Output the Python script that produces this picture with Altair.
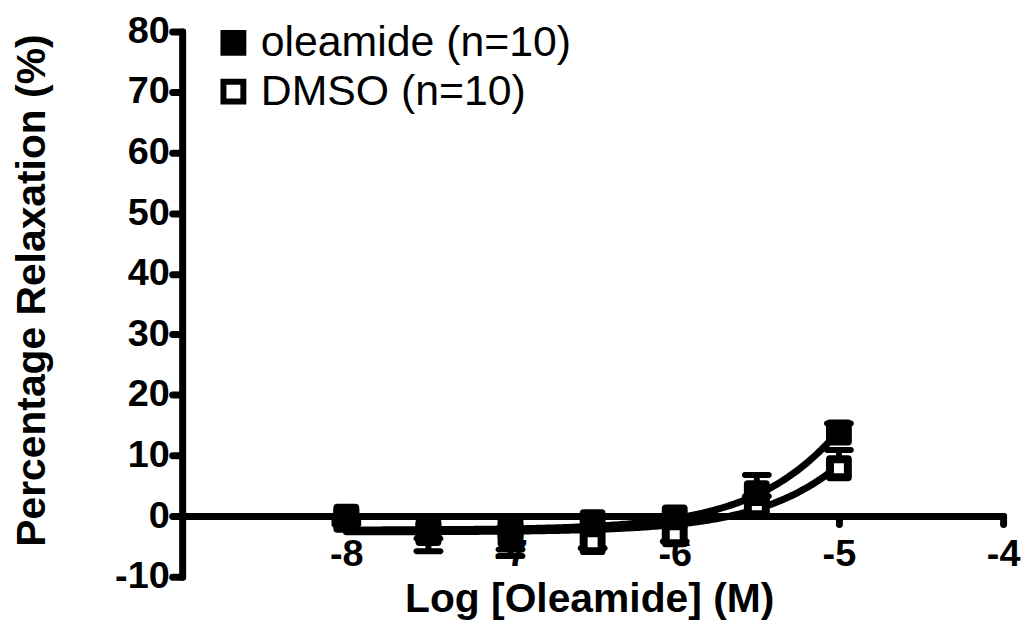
import altair as alt
import numpy as np
import pandas as pd

# ---- data ----
log_conc = [-8.0, -7.5, -7.0, -6.5, -6.0, -5.5, -5.0]
series_names = ["oleamide (n=10)", "DMSO (n=10)"]
oleamide_mean = [-0.1, -2.8, -3.0, -1.0, -0.2, 3.8, 13.8]
oleamide_sem = [0.8, 3.0, 3.6, 0.8, 0.8, 3.0, 1.5]
dmso_mean = [-0.6, -2.5, -1.9, -4.3, -3.0, 1.8, 7.9]
dmso_sem = [0.8, 1.2, 3.6, 1.0, 1.2, 1.5, 3.0]
# sigmoidal fit parameters (bottom, top, logEC50, hill) for each series
fit_bottom = [-2.3, -2.6]
fit_top = [100.0, 100.0]
fit_logec50 = [-4.28, -4.08]
fit_hill = [1.0, 1.0]
x_ticks = [-8, -7, -6, -5, -4]
y_ticks = [-10, 0, 10, 20, 30, 40, 50, 60, 70, 80]

# ---- tables ----
pts = []
for name, means, sems in [(series_names[1], dmso_mean, dmso_sem),
                          (series_names[0], oleamide_mean, oleamide_sem)]:
    for x, m, s in zip(log_conc, means, sems):
        sign = 1 if m >= 0 else -1
        pts.append({"series": name, "x": x, "y": m, "y2": m + sign * s})
pts = pd.DataFrame(pts)

curve_rows = []
grid = np.linspace(log_conc[0], log_conc[-1], 200)
for i, name in enumerate(series_names):
    for x in grid:
        y = fit_bottom[i] + (fit_top[i] - fit_bottom[i]) / (1 + 10 ** ((fit_logec50[i] - x) * fit_hill[i]))
        curve_rows.append({"series": name, "x": float(x), "y": float(y)})
curve = pd.DataFrame(curve_rows)

FONT = "Liberation Sans"
x_scale = alt.Scale(domain=[-9, -4], nice=False, zero=False)
y_scale = alt.Scale(domain=[-10, 80], nice=False, zero=False)

x_axis = alt.Axis(
    values=x_ticks, title="Log [Oleamide] (M)", offset=-61, grid=False,
    domainColor="black", domainWidth=7, domainCap="round",
    tickColor="black", tickWidth=7, tickSize=8, tickCap="round",
    labelFont=FONT, labelFontSize=38, labelFontWeight="bold", labelColor="black",
    labelBaseline="alphabetic", labelPadding=42, labelFlush=False, labelOverlap=False,
    labelExpr="datum.value + ''",
    titleFont=FONT, titleFontSize=41, titleFontWeight="bold", titleColor="black",
    titleBaseline="alphabetic", titleY=96, titleX=409, titleAlign="center",
)
y_axis = alt.Axis(
    values=y_ticks, title="Percentage Relaxation (%)", grid=False,
    domainColor="black", domainWidth=7, domainCap="round",
    tickColor="black", tickWidth=7, tickSize=10, tickCap="round",
    labelFont=FONT, labelFontSize=38, labelFontWeight="bold", labelColor="black",
    labelPadding=3, labelFlush=False, labelOverlap=False,
    labelExpr="datum.value + ''",
    titleFont=FONT, titleFontSize=41, titleFontWeight="bold", titleColor="black",
    titleBaseline="alphabetic", titleAngle=270, titleX=-138, titleY=260, titleAlign="center",
)


def X(field="x"):
    return alt.X(f"{field}:Q", scale=x_scale, axis=x_axis)


def Y(field="y"):
    return alt.Y(f"{field}:Q", scale=y_scale, axis=y_axis)


lines = alt.Chart(curve).mark_line(color="black", strokeWidth=7, strokeCap="round").encode(
    x=X(), y=Y(), detail="series:N"
)

err = alt.Chart(pts).mark_rule(color="black", strokeWidth=6).encode(
    x=X(), y=Y(), y2="y2:Q"
)

caps = alt.Chart(pts).mark_tick(color="black", orient="horizontal", size=30, thickness=6,
                                cornerRadius=3, opacity=1).encode(
    x=X(), y=Y("y2")
)

points = alt.Chart(pts).mark_square(size=324, stroke="black", strokeWidth=8,
                                    strokeJoin="round", opacity=1).encode(
    x=X(), y=Y(),
    fill=alt.Fill("series:N", sort=series_names,
                  scale=alt.Scale(domain=series_names, range=["black", "white"]),
                  legend=alt.Legend(
                      orient="none", legendX=30, legendY=-10, direction="vertical",
                      title=None, padding=0, labelLimit=1000,
                      labelFont=FONT, labelFontSize=43, labelColor="black",
                      labelOffset=6, rowPadding=4,
                      symbolType="square", symbolSize=400, symbolStrokeWidth=6,
                      symbolStrokeColor="black", symbolOpacity=1,
                  )),
    order=alt.Order("series:N", sort="ascending"),
)

chart = alt.layer(lines, err, caps, points).properties(
    width=825, height=548,
    autosize=alt.AutoSizeParams(type="none"),
    padding={"left": 175, "top": 22, "right": 20, "bottom": 44},
    background="white",
).configure_view(stroke=None)

chart.save("out.html", embed_options={"renderer": "svg", "actions": False})
